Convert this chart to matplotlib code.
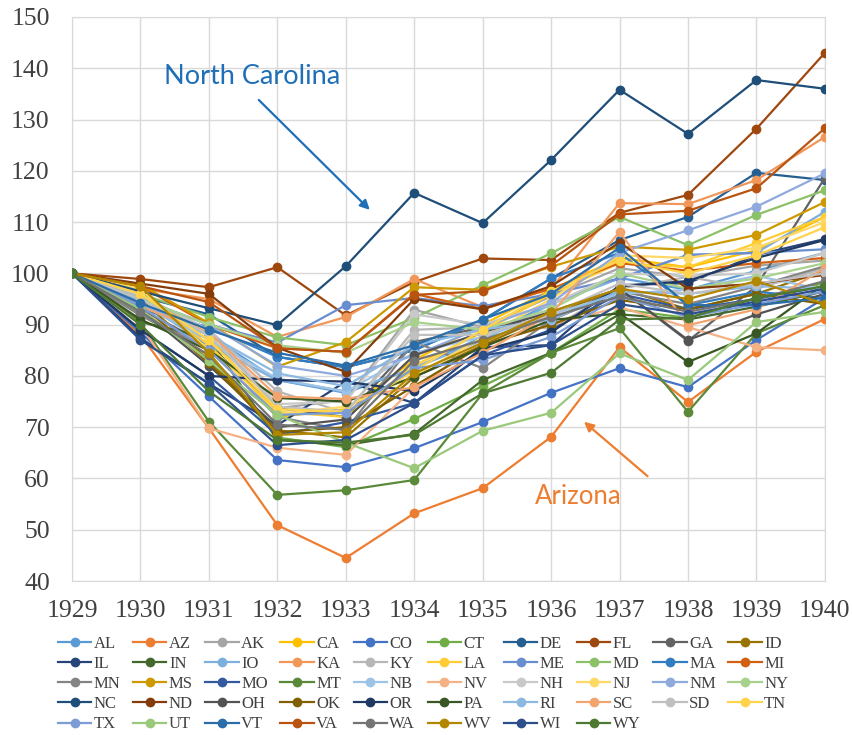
import colorsys
import numpy as np
import matplotlib
matplotlib.use("Agg")
import matplotlib.pyplot as plt
from matplotlib.colors import to_rgb

years = list(range(1929, 1941))

states = ["AL", "AZ", "AK", "CA", "CO", "CT", "DE", "FL", "GA", "ID",
          "IL", "IN", "IO", "KA", "KY", "LA", "ME", "MD", "MA", "MI",
          "MN", "MS", "MO", "MT", "NB", "NV", "NH", "NJ", "NM", "NY",
          "NC", "ND", "OH", "OK", "OR", "PA", "RI", "SC", "SD", "TN",
          "TX", "UT", "VT", "VA", "WA", "WV", "WI", "WY"]

# index values (1929 = 100)
AL = [100, 93.5, 88.0, 79.2, 76.7, 81.5, 87.6, 94.2, 99.1, 96.8, 100.5, 104.0]
AZ = [100, 88.0, 69.8, 50.9, 44.5, 53.2, 58.1, 68.1, 85.6, 74.9, 84.7, 91.1]
AK = [100, 95.5, 89.0, 73.7, 75.3, 92.9, 89.5, 95.5, 101.0, 99.3, 101.5, 102.5]
CA = [100, 96.0, 88.0, 72.0, 73.5, 83.1, 90.0, 96.8, 103.0, 101.2, 104.5, 111.0]
CO = [100, 88.5, 76.0, 63.6, 62.2, 65.9, 71.0, 76.7, 81.5, 77.8, 87.0, 95.2]
CT = [100, 92.0, 84.0, 68.0, 66.1, 71.6, 78.0, 84.5, 93.0, 91.3, 95.2, 98.1]
DE = [100, 95.5, 92.0, 83.7, 81.7, 85.0, 90.9, 99.0, 106.5, 111.0, 119.6, 118.2]
FL = [100, 98.9, 97.3, 101.2, 91.8, 98.3, 102.9, 102.6, 111.8, 115.3, 128.2, 143.0]
GA = [100, 93.0, 86.0, 73.7, 72.0, 86.6, 89.5, 90.9, 97.0, 86.8, 97.5, 118.6]
ID = [100, 95.0, 83.0, 69.4, 68.0, 79.8, 86.0, 92.0, 97.0, 93.0, 96.0, 100.5]
IL = [100, 87.4, 78.5, 70.4, 78.9, 74.7, 85.6, 86.0, 97.7, 98.1, 103.6, 106.7]
IN = [100, 90.5, 87.5, 67.5, 66.5, 68.7, 79.2, 84.5, 92.0, 91.0, 93.5, 96.5]
IO = [100, 94.5, 86.0, 79.2, 77.0, 81.5, 87.0, 94.0, 99.0, 103.6, 104.0, 112.0]
KA = [100, 97.0, 95.0, 87.6, 91.5, 98.9, 93.4, 97.0, 113.7, 113.5, 118.2, 126.6]
KY = [100, 95.5, 89.0, 77.0, 72.8, 89.0, 89.5, 89.3, 97.0, 99.3, 97.0, 101.0]
LA = [100, 96.5, 86.0, 73.0, 72.0, 82.0, 88.5, 96.0, 102.0, 101.2, 105.9, 111.0]
ME = [100, 95.0, 90.0, 86.5, 93.8, 95.2, 93.6, 96.0, 99.0, 103.6, 104.0, 104.7]
MD = [100, 96.0, 91.5, 87.5, 86.0, 91.3, 97.7, 103.9, 111.0, 105.5, 111.4, 116.2]
MA = [100, 93.0, 89.5, 83.7, 81.7, 85.0, 90.9, 99.0, 104.0, 93.8, 96.4, 95.2]
MI = [100, 97.5, 90.0, 85.4, 84.7, 96.0, 93.0, 97.0, 102.0, 100.5, 102.0, 103.0]
MN = [100, 91.8, 85.3, 72.0, 69.4, 86.6, 81.5, 90.9, 96.5, 94.0, 97.5, 101.4]
MS = [100, 97.8, 90.3, 81.8, 86.6, 97.3, 96.8, 101.3, 105.2, 104.6, 107.5, 113.9]
MO = [100, 89.0, 80.0, 68.5, 71.0, 74.7, 84.0, 89.0, 96.0, 93.0, 95.0, 97.5]
MT = [100, 90.4, 71.1, 56.8, 57.7, 59.7, 76.6, 84.5, 89.3, 73.0, 88.3, 93.8]
NB = [100, 94.0, 87.0, 79.5, 76.9, 84.5, 87.6, 92.0, 96.0, 96.8, 99.5, 96.8]
NV = [100, 90.0, 69.8, 66.0, 64.6, 77.8, 86.0, 90.0, 93.4, 89.5, 85.6, 85.0]
NH = [100, 95.8, 89.0, 74.5, 75.0, 92.0, 90.0, 94.0, 100.0, 99.5, 100.0, 104.0]
NJ = [100, 97.0, 85.0, 72.5, 74.0, 80.0, 87.5, 95.0, 103.5, 103.0, 105.0, 110.0]
NM = [100, 95.0, 90.0, 82.0, 80.0, 84.0, 89.5, 94.2, 104.0, 108.4, 113.0, 119.5]
NY = [100, 95.0, 90.0, 86.0, 84.5, 90.5, 89.0, 93.0, 100.0, 97.0, 99.0, 102.0]
NC = [100, 96.5, 93.2, 89.9, 101.4, 115.7, 109.8, 122.1, 135.8, 127.2, 137.7, 136.0]
ND = [100, 98.0, 96.0, 85.5, 80.8, 95.0, 93.0, 97.5, 106.0, 97.0, 98.0, 99.7]
OH = [100, 93.0, 82.0, 70.0, 71.5, 84.0, 88.5, 92.5, 97.0, 87.0, 92.0, 96.0]
OK = [100, 94.0, 82.5, 69.0, 70.0, 78.0, 86.0, 90.0, 94.8, 93.0, 96.0, 94.0]
OR = [100, 89.0, 80.0, 79.2, 78.9, 77.0, 85.0, 88.5, 97.5, 98.5, 103.0, 106.5]
PA = [100, 91.0, 85.0, 75.7, 75.0, 79.8, 85.6, 90.9, 92.2, 82.7, 88.3, 98.0]
RI = [100, 94.0, 88.0, 80.5, 78.0, 86.0, 89.0, 91.0, 96.5, 96.0, 97.5, 97.0]
SC = [100, 93.5, 88.5, 76.0, 75.5, 77.8, 84.5, 92.0, 108.1, 89.9, 93.0, 101.0]
SD = [100, 95.0, 88.0, 74.0, 73.0, 88.0, 88.0, 92.0, 98.0, 96.0, 98.0, 100.0]
TN = [100, 96.0, 87.0, 73.5, 73.0, 81.0, 89.0, 96.5, 102.5, 100.0, 103.5, 109.0]
TX = [100, 93.5, 85.0, 72.4, 72.8, 81.5, 83.1, 87.6, 95.5, 91.5, 94.0, 96.5]
UT = [100, 93.0, 83.0, 72.4, 67.0, 62.0, 69.3, 72.8, 84.4, 79.2, 90.5, 92.5]
VT = [100, 94.2, 89.0, 84.5, 82.0, 86.0, 91.0, 96.0, 105.0, 93.8, 93.8, 95.2]
VA = [100, 97.5, 94.4, 85.4, 84.7, 95.8, 96.5, 101.5, 111.5, 112.2, 116.6, 128.3]
WA = [100, 92.5, 84.0, 70.5, 69.5, 83.0, 87.0, 91.5, 95.5, 92.5, 95.0, 98.5]
WV = [100, 97.5, 84.5, 68.5, 69.0, 80.5, 86.5, 92.5, 97.0, 95.0, 98.5, 94.0]
WI = [100, 87.0, 78.5, 66.5, 67.5, 74.7, 84.0, 86.0, 94.0, 92.0, 94.5, 97.0]
WY = [100, 90.0, 77.0, 67.5, 67.0, 68.5, 76.6, 80.6, 91.0, 91.3, 95.2, 97.5]

series = [AL, AZ, AK, CA, CO, CT, DE, FL, GA, ID, IL, IN, IO, KA, KY, LA,
          ME, MD, MA, MI, MN, MS, MO, MT, NB, NV, NH, NJ, NM, NY, NC, ND,
          OH, OK, OR, PA, RI, SC, SD, TN, TX, UT, VT, VA, WA, WV, WI, WY]

# office style palette: 6 accents, then shaded variants
accents = ["#5B9BD5", "#ED7D31", "#A5A5A5", "#FFC000", "#4472C4", "#70AD47"]
tiers = [(1.0, 0.0), (0.6, 0.0), (0.8, 0.2), (0.8, 0.0),
         (0.6, 0.4), (0.5, 0.0), (0.7, 0.3), (0.7, 0.0)]


def shade(hexc, mod, off):
    h, l, s = colorsys.rgb_to_hls(*to_rgb(hexc))
    return colorsys.hls_to_rgb(h, min(1.0, l * mod + off), s)


def series_color(i):
    mod, off = tiers[i // 6]
    return shade(accents[i % 6], mod, off)


fig = plt.figure(figsize=(8.53, 7.35), dpi=100)
ax = fig.add_axes([0.0844, 0.2095, 0.8826, 0.7674])

handles = []
for i, (name, vals) in enumerate(zip(states, series)):
    h, = ax.plot(years, vals, color=series_color(i), lw=1.6, marker="o",
                 markersize=6, label=name, zorder=3)
    handles.append(h)

ax.set_xlim(1929, 1940)
ax.set_ylim(40, 150)
ax.set_xticks(years)
ax.set_yticks(np.arange(40, 151, 10))
ax.grid(True, color="#D9D9D9", lw=1, zorder=0)
for sp in ax.spines.values():
    sp.set_color("#D9D9D9")
ax.tick_params(length=0, labelsize=18.5, labelcolor="#404040")
ax.tick_params(axis="y", pad=16)
ax.tick_params(axis="x", pad=14)
for lab in ax.get_xticklabels() + ax.get_yticklabels():
    lab.set_family("Liberation Serif")

# annotations
ax.annotate("", xy=(1933.38, 112.0), xytext=(1931.70, 134.2),
            arrowprops=dict(arrowstyle="-|>", color="#1F6FB8", lw=1.6,
                            mutation_scale=14))
ax.text(1931.63, 138.3, "North Carolina", color="#1F6FB8", fontsize=19.5,
        family="Lato", ha="center", va="center")
ax.annotate("", xy=(1936.45, 71.4), xytext=(1937.44, 60.1),
            arrowprops=dict(arrowstyle="-|>", color="#ED7D31", lw=1.6,
                            mutation_scale=14))
ax.text(1936.39, 56.4, "Arizona", color="#ED7D31", fontsize=18.5,
        family="Lato", ha="center", va="center")

# legend reads row by row, matplotlib fills column by column
order = [r * 10 + c for c in range(10) for r in range(5) if r * 10 + c < 48]
fig.legend([handles[k] for k in order], [states[k] for k in order],
           ncol=10, loc="upper left", bbox_to_anchor=(0.068, 0.135),
           frameon=False, prop={"family": "Liberation Serif", "size": 12},
           handlelength=2.0, handletextpad=0.15, columnspacing=0.75,
           labelspacing=0.25, borderaxespad=0, borderpad=0,
           labelcolor="#404040")

fig.savefig("out.png", dpi=100)
